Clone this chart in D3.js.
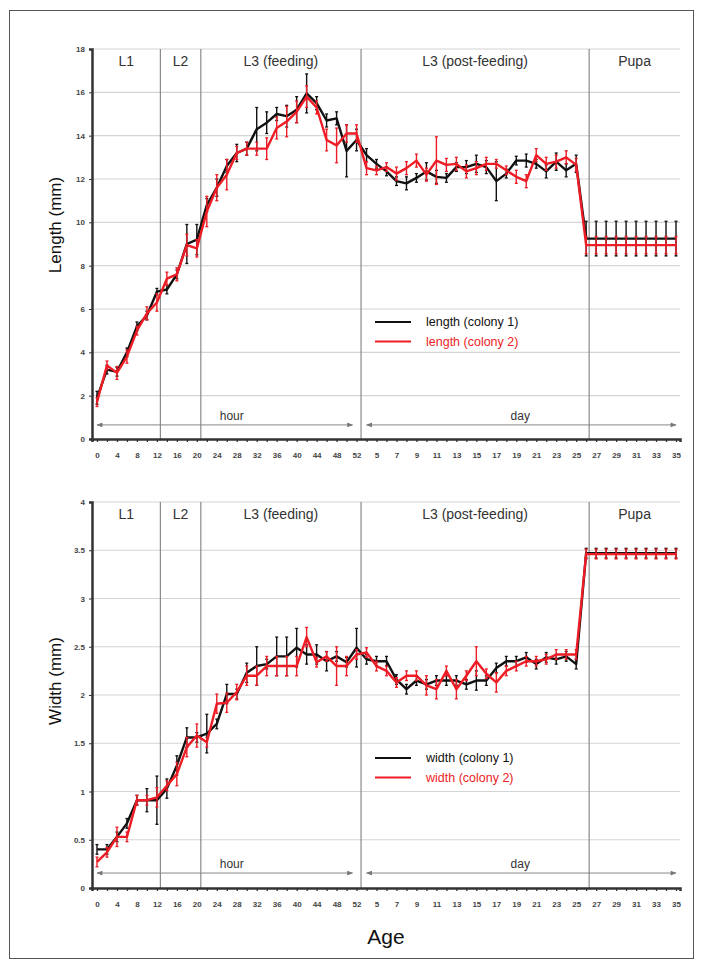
<!DOCTYPE html>
<html lang="en">
<head>
    <meta charset="UTF-8">
    <title>Larval length and width by age</title>
    <script src="https://d3js.org/d3.v7.min.js"></script>
    <style>
        body { margin: 0; background: #fff; font-family: "Liberation Sans", Arial, sans-serif; }
        svg { display: block; }
    </style>
</head>
<body>
    <div id="chart"></div>
    <script>
        // age categories: hours 0-52 (every 2 h), then days 4-35
        const ageCats = ["0","2","4","6","8","10","12","14","16","18","20","22","24","26","28","30",
            "32","34","36","38","40","42","44","46","48","50","52",
            "4","5","6","7","8","9","10","11","12","13","14","15","16","17","18","19","20",
            "21","22","23","24","25","26","27","28","29","30","31","32","33","34","35"];

        const stages = ["L1", "L2", "L3 (feeding)", "L3 (post-feeding)", "Pupa"];
        // stage boundaries, in category-index units
        const stageBounds = [6.35, 10.4, 26.45, 49.3];

        const lengthC1 = [1.9,3.2,3.1,4.0,5.2,5.7,6.8,6.9,7.6,9.0,9.2,10.8,11.6,12.6,13.2,13.4,14.3,14.6,15.0,14.9,15.2,15.95,15.5,14.7,14.8,13.3,13.8,
            13.1,12.7,12.35,11.9,11.8,12.05,12.35,12.1,12.05,12.55,12.55,12.7,12.55,11.9,12.25,12.85,12.85,12.7,12.35,12.8,12.4,12.7,
            9.25,9.25,9.25,9.25,9.25,9.25,9.25,9.25,9.25,9.25];
        const lengthC2 = [1.7,3.4,3.05,3.8,5.0,5.8,6.3,7.4,7.6,8.95,8.8,10.5,11.6,12.2,13.2,13.4,13.4,13.4,14.35,14.65,15.1,15.8,15.3,13.8,13.55,14.1,14.1,
            12.5,12.4,12.55,12.25,12.5,12.85,12.2,12.85,12.65,12.7,12.35,12.5,12.7,12.7,12.4,12.1,11.9,13.1,12.7,12.8,13.0,12.65,
            8.95,8.95,8.95,8.95,8.95,8.95,8.95,8.95,8.95,8.95];
        const lengthErr1 = [0.3,0.2,0.2,0.2,0.2,0.2,0.15,0.2,0.2,0.9,0.7,0.3,0.4,0.3,0.4,0.3,1.0,0.5,0.3,0.5,0.6,0.9,0.3,0.3,0.3,1.2,0.5,
            0.3,0.2,0.2,0.2,0.3,0.2,0.4,0.3,0.2,0.2,0.3,0.4,0.3,0.9,0.2,0.2,0.3,0.2,0.3,0.4,0.3,0.4,
            0.8,0.8,0.8,0.8,0.8,0.8,0.8,0.8,0.8,0.8];
        const lengthErr2 = [0.2,0.2,0.3,0.3,0.2,0.3,0.4,0.3,0.3,0.5,0.4,0.7,0.6,0.7,0.3,0.3,0.3,0.5,0.5,0.7,0.5,0.5,0.3,0.5,0.8,0.4,0.4,
            0.3,0.2,0.2,0.3,0.3,0.3,0.3,1.1,0.3,0.3,0.3,0.3,0.3,0.2,0.2,0.3,0.3,0.3,0.3,0.3,0.3,0.3,
            0.4,0.4,0.4,0.4,0.4,0.4,0.4,0.4,0.4,0.4];

        const widthC1 = [0.4,0.4,0.53,0.67,0.91,0.91,0.91,1.03,1.27,1.56,1.56,1.6,1.7,2.01,2.01,2.23,2.3,2.32,2.4,2.4,2.49,2.42,2.42,2.35,2.4,2.34,2.49,
            2.37,2.35,2.35,2.16,2.06,2.15,2.11,2.15,2.15,2.15,2.11,2.15,2.15,2.28,2.35,2.35,2.39,2.32,2.39,2.37,2.4,2.32,
            3.47,3.47,3.47,3.47,3.47,3.47,3.47,3.47,3.47,3.47];
        const widthC2 = [0.27,0.37,0.53,0.53,0.91,0.91,0.94,1.06,1.18,1.46,1.58,1.51,1.91,1.92,2.03,2.2,2.2,2.3,2.3,2.3,2.3,2.6,2.34,2.4,2.3,2.3,2.42,
            2.44,2.3,2.25,2.13,2.2,2.2,2.1,2.06,2.25,2.06,2.2,2.35,2.22,2.13,2.25,2.3,2.35,2.35,2.37,2.42,2.42,2.42,
            3.46,3.46,3.46,3.46,3.46,3.46,3.46,3.46,3.46,3.46];
        const widthErr1 = [0.05,0.05,0.05,0.05,0.05,0.12,0.25,0.1,0.1,0.1,0.05,0.2,0.05,0.1,0.05,0.1,0.2,0.05,0.2,0.2,0.2,0.1,0.1,0.1,0.05,0.05,0.2,
            0.05,0.05,0.05,0.05,0.05,0.05,0.05,0.05,0.05,0.05,0.05,0.1,0.05,0.05,0.05,0.05,0.05,0.05,0.05,0.05,0.05,0.05,
            0.05,0.05,0.05,0.05,0.05,0.05,0.05,0.05,0.05,0.05];
        const widthErr2 = [0.05,0.05,0.1,0.05,0.05,0.05,0.1,0.05,0.12,0.1,0.12,0.05,0.1,0.1,0.08,0.1,0.1,0.1,0.1,0.1,0.1,0.1,0.05,0.05,0.2,0.1,0.05,
            0.05,0.05,0.05,0.05,0.05,0.05,0.1,0.1,0.05,0.1,0.05,0.15,0.05,0.1,0.05,0.05,0.05,0.05,0.05,0.05,0.05,0.05,
            0.05,0.05,0.05,0.05,0.05,0.05,0.05,0.05,0.05,0.05];

        const lengthTicks = [0,2,4,6,8,10,12,14,16,18];
        const widthTicks = [0,0.5,1,1.5,2,2.5,3,3.5,4];

        const W = 703, H = 965;
        const black = "#111", red = "#ee1c25", gridCol = "#d4d4d4", stageCol = "#8a8a8a";

        const svg = d3.select("#chart").append("svg")
            .attr("width", W).attr("height", H);

        // frame round the figure
        svg.append("rect")
            .attr("x", 9.5).attr("y", 10.5)
            .attr("width", 684).attr("height", 948)
            .attr("fill", "none").attr("stroke", "#555").attr("stroke-width", 1);

        const defs = svg.append("defs");
        defs.append("marker")
            .attr("id", "arrow").attr("viewBox", "0 0 10 10")
            .attr("refX", 9).attr("refY", 5)
            .attr("markerWidth", 7).attr("markerHeight", 6)
            .attr("orient", "auto-start-reverse")
            .append("path").attr("d", "M0,1 L10,5 L0,9 z").attr("fill", "#777");

        const x = d3.scaleLinear().domain([-0.5, 58.4]).range([92, 680]);

        function drawPanel(p) {
            const y = d3.scaleLinear().domain([0, p.ticks[p.ticks.length - 1]]).range([p.bottom, p.top]);
            const g = svg.append("g");

            // horizontal gridlines
            g.selectAll(".grid").data(p.ticks.slice(1)).enter().append("line")
                .attr("x1", 92).attr("x2", 680)
                .attr("y1", d => y(d)).attr("y2", d => y(d))
                .attr("stroke", gridCol).attr("stroke-width", 1.2);

            // stage boundaries
            g.selectAll(".stage").data(stageBounds).enter().append("line")
                .attr("x1", d => x(d)).attr("x2", d => x(d))
                .attr("y1", p.top).attr("y2", p.bottom)
                .attr("stroke", stageCol).attr("stroke-width", 1.2);

            const edges = [-0.5].concat(stageBounds, [58.4]);
            g.selectAll(".stageLabel").data(stages).enter().append("text")
                .attr("x", (d, i) => x((edges[i] + edges[i + 1]) / 2))
                .attr("y", p.top + 17)
                .attr("text-anchor", "middle")
                .attr("font-size", 14).attr("fill", "#333")
                .text(d => d);

            // hour / day arrows
            const arrowY = y(p.arrowVal);
            [[0, 25.6], [27, 58]].forEach(r => {
                g.append("line")
                    .attr("x1", x(r[0])).attr("x2", x(r[1]))
                    .attr("y1", arrowY).attr("y2", arrowY)
                    .attr("stroke", "#888").attr("stroke-width", 1)
                    .attr("marker-start", "url(#arrow)")
                    .attr("marker-end", "url(#arrow)");
            });
            g.append("text").attr("x", x(13.5)).attr("y", arrowY - 5)
                .attr("text-anchor", "middle").attr("font-size", 12).attr("fill", "#333").text("hour");
            g.append("text").attr("x", x(42.4)).attr("y", arrowY - 5)
                .attr("text-anchor", "middle").attr("font-size", 12).attr("fill", "#333").text("day");

            // y axis
            const yAxis = d3.axisLeft(y).tickValues(p.ticks).tickSize(3).tickPadding(4)
                .tickFormat(d3.format("~g"));
            const ya = g.append("g").attr("transform", "translate(92,0)").call(yAxis);
            ya.select(".domain").attr("stroke", "#333").attr("stroke-width", 2.5);
            ya.selectAll(".tick line").attr("stroke", "#333");
            ya.selectAll("text").attr("font-size", 8).attr("fill", "#444").attr("font-weight", "bold")
                .attr("font-family", "'Liberation Sans', Arial, sans-serif");

            // x axis: a tick for every category, a label on every other one
            const idx = d3.range(ageCats.length);
            const xAxis = d3.axisBottom(x).tickValues(idx).tickSize(3).tickPadding(10)
                .tickFormat(i => i % 2 === 0 ? ageCats[i] : "");
            const xa = g.append("g").attr("transform", `translate(0,${p.bottom})`).call(xAxis);
            xa.select(".domain").attr("stroke", "#333").attr("stroke-width", 2.5);
            xa.selectAll(".tick line").attr("stroke", "#333").attr("stroke-width", 1.3);
            xa.selectAll("text").attr("font-size", 8).attr("fill", "#444").attr("font-weight", "bold")
                .attr("font-family", "'Liberation Sans', Arial, sans-serif");

            g.append("text")
                .attr("transform", `translate(61,${p.labelY}) rotate(-90)`)
                .attr("text-anchor", "middle").attr("font-size", 17).attr("fill", "#111")
                .text(p.yLabel);

            // series: red drawn over black
            [[p.s1, p.e1, black], [p.s2, p.e2, red]].forEach(([vals, errs, col]) => {
                const eb = g.append("g");
                vals.forEach((v, i) => {
                    const cx = x(i), lo = y(v - errs[i]), hi = y(v + errs[i]);
                    eb.append("line").attr("x1", cx).attr("x2", cx).attr("y1", lo).attr("y2", hi)
                        .attr("stroke", col).attr("stroke-width", 1.4);
                    [lo, hi].forEach(yy => eb.append("line")
                        .attr("x1", cx - 1.5).attr("x2", cx + 1.5).attr("y1", yy).attr("y2", yy)
                        .attr("stroke", col).attr("stroke-width", 1.3));
                });
                g.append("path").datum(vals)
                    .attr("fill", "none").attr("stroke", col).attr("stroke-width", 2.4)
                    .attr("stroke-linejoin", "round")
                    .attr("d", d3.line().x((d, i) => x(i)).y(d => y(d)));
            });

            // legend
            p.legend.forEach((t, i) => {
                const ly = p.legendY + i * 19.5;
                const col = i === 0 ? black : red;
                g.append("line").attr("x1", 375).attr("x2", 411).attr("y1", ly).attr("y2", ly)
                    .attr("stroke", col).attr("stroke-width", 2.2);
                g.append("text").attr("x", 426).attr("y", ly + 4)
                    .attr("font-size", 12.5).attr("fill", col).text(t);
            });
        }

        drawPanel({
            top: 49, bottom: 439, ticks: lengthTicks, yLabel: "Length (mm)", labelY: 225,
            s1: lengthC1, s2: lengthC2, e1: lengthErr1, e2: lengthErr2,
            arrowVal: 0.65, legendY: 322,
            legend: ["length (colony 1)", "length (colony 2)"]
        });
        drawPanel({
            top: 502, bottom: 888, ticks: widthTicks, yLabel: "Width (mm)", labelY: 681,
            s1: widthC1, s2: widthC2, e1: widthErr1, e2: widthErr2,
            arrowVal: 0.155, legendY: 758,
            legend: ["width (colony 1)", "width (colony 2)"]
        });

        svg.append("text").attr("x", 386).attr("y", 944)
            .attr("text-anchor", "middle").attr("font-size", 21).attr("fill", "#111")
            .text("Age");
    </script>
</body>
</html>
